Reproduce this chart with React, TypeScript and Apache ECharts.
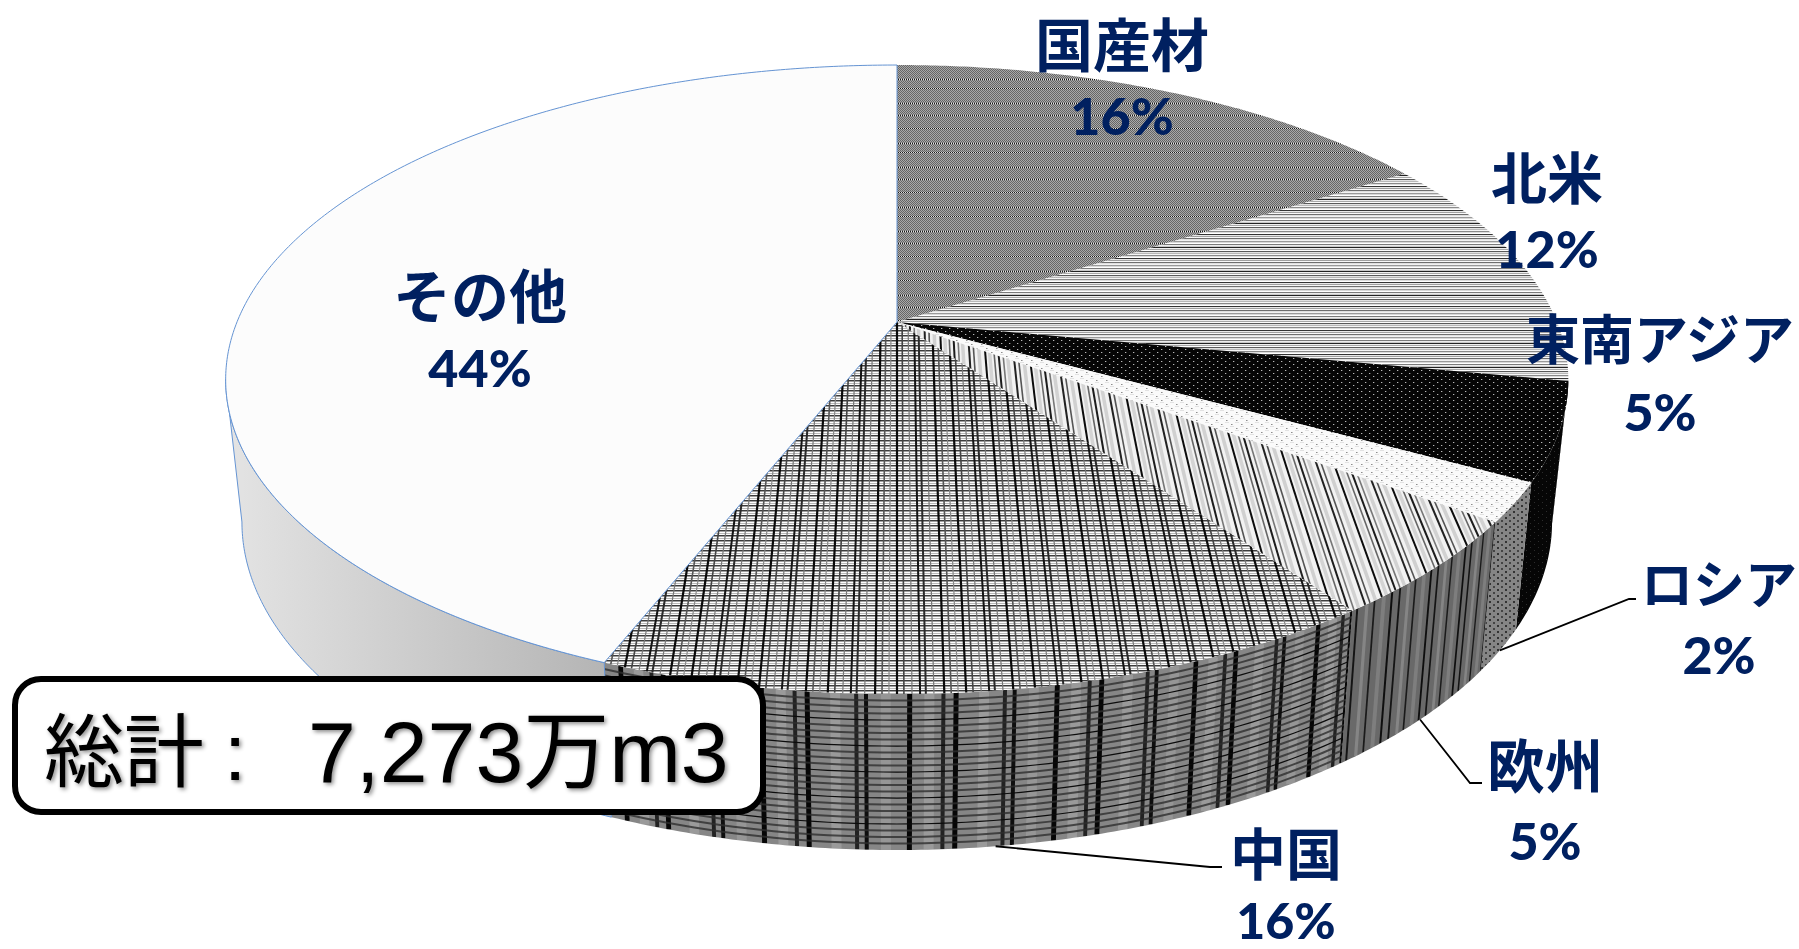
import React, { useEffect, useRef } from "react";
import * as echarts from "echarts";

const CATEGORIES = ["国産材", "北米", "東南アジア", "ロシア", "欧州", "中国", "その他"];
const VALUES = [16, 12, 5, 2, 5, 16, 44];
const TOTAL_PARTS = ["総計", ":", "7,273万m3"];

const WIDTH = 1799;
const HEIGHT = 949;
const NAVY = "#002060";
const EDGE_BLUE = "#6594d3";

// Perspective disc: the top face and the bottom face of the pie.
const CENTER_X = 897;
const TOP_FACE = { a: 660, b: 304, k: 0.183, cy: 322 };
const LOW_FACE = { a: 644, b: 317, k: 0.183, cy: 462 };
const VANISH_Y = -750;
const VANISH_SPAN = 1250;
// The rim is only seen between the two angles where the side of the disc turns away.
const RIM_FROM = (Math.acos(-TOP_FACE.k) * 180) / Math.PI;
const RIM_TO = 360 - RIM_FROM;

const LABEL_ANCHORS = [
  [1122, 42, 115],
  [1547, 174, 248],
  [1660, 336, 411],
  [1719, 581, 654],
  [1545, 763, 840],
  [1286, 850, 920],
  [480, 293, 367],
];
const NAME_SIZES = [58, 56, 54, 52, 58, 56, 58];
const VALUE_SIZES = [52, 52, 52, 52, 52, 50, 52];
const TOTAL_POSITIONS = [44, 224, 308];
const TOTAL_SIZES = [80, 80, 86];
// Leader elbows for the labels that sit away from their slices, keyed by slice index.
const LEADERS: Record<number, number[][]> = {
  3: [[1629, 599], [1636, 599]],
  4: [[1470, 783], [1482, 783]],
  5: [[1210, 867], [1222, 867]],
};

type Face = typeof TOP_FACE;

function project(face: Face, deg: number) {
  const r = (deg * Math.PI) / 180;
  const u = Math.sin(r);
  const v = -Math.cos(r);
  const d = 1 - face.k * v;
  return [CENTER_X + (face.a * u) / d, face.cy + (face.b * v) / d];
}

function sliceAngles(i: number) {
  const sum = VALUES.reduce((a, b) => a + b, 0);
  let before = 0;
  for (let j = 0; j < i; j++) before += VALUES[j];
  return [(before / sum) * 360, ((before + VALUES[i]) / sum) * 360];
}

function arc(face: Face, from: number, to: number) {
  const pts: number[][] = [];
  const steps = Math.max(2, Math.ceil(Math.abs(to - from) * 2));
  for (let s = 0; s <= steps; s++) pts.push(project(face, from + ((to - from) * s) / steps));
  return pts;
}

function makeTexture(w: number, h: number, paint: (g: CanvasRenderingContext2D) => void) {
  const c = document.createElement("canvas");
  c.width = w;
  c.height = h;
  paint(c.getContext("2d") as CanvasRenderingContext2D);
  return { image: c, repeat: "repeat", imageWidth: w, imageHeight: h };
}

function px(g: CanvasRenderingContext2D, x: number, y: number, color: string, w = 1, h = 1) {
  g.fillStyle = color;
  g.fillRect(x, y, w, h);
}

// Hatch lines on the top face fan out from a point above the pie.
function fanLines(g: CanvasRenderingContext2D, period: number, marks: (string | number)[][]) {
  for (let k = -40; k <= 40; k++) {
    for (const [offset, lw, color] of marks) {
      const w = k * period + (offset as number);
      g.strokeStyle = color as string;
      g.lineWidth = lw as number;
      g.beginPath();
      g.moveTo(CENTER_X + (w * (0 - VANISH_Y)) / VANISH_SPAN, 0);
      g.lineTo(CENTER_X + (w * (HEIGHT - VANISH_Y)) / VANISH_SPAN, HEIGHT);
      g.stroke();
    }
  }
}

// Lines running down the rim at fixed angles.
function rimVerticals(
  g: CanvasRenderingContext2D,
  from: number,
  to: number,
  period: number,
  marks: (string | number)[][],
) {
  for (let base = from - period; base < to + period; base += period) {
    for (const [offset, lw, color] of marks) {
      const deg = base + (offset as number);
      const t = project(TOP_FACE, deg);
      const l = project(LOW_FACE, deg);
      g.strokeStyle = color as string;
      g.lineWidth = (lw as number) * Math.max(0.55, Math.abs(Math.cos((deg * Math.PI) / 180)));
      g.beginPath();
      g.moveTo(t[0], t[1]);
      g.lineTo(l[0], l[1]);
      g.stroke();
    }
  }
}

function buildTopFills() {
  const woodBands = [0, 15, 24, 39, 51];
  const domestic = makeTexture(8, 64, (g) => {
    for (let y = 0; y < 64; y++) {
      for (let x = 0; x < 8; x++) {
        let c = (x + y) % 2 === 0 ? "#666666" : "#a8a8a8";
        if (woodBands.includes(y)) c = x % 2 === 0 ? "#151515" : "#e6e6e6";
        px(g, x, y, c);
      }
    }
  });
  const northRows = [
    "#f2f2f2", "#9a9a9a", "#d8d8d8", "#ffffff", "#7a7a7a", "#ececec", "#c8c8c8", "#222222",
    "#efefef", "#a8a8a8", "#fdfdfd", "#5a5a5a", "#e2e2e2", "#b8b8b8", "#f6f6f6", "#8a8a8a",
    "#dddddd", "#ffffff", "#333333", "#e8e8e8", "#a0a0a0", "#f8f8f8", "#6e6e6e", "#e0e0e0",
  ];
  const north = makeTexture(4, northRows.length, (g) => {
    northRows.forEach((c, y) => px(g, 0, y, c, 4, 1));
  });
  const asia = makeTexture(8, 6, (g) => {
    px(g, 0, 0, "#060606", 8, 6);
    for (const [x, y] of [[1, 1], [5, 4]]) {
      px(g, x, y, "#b8b8b8");
      px(g, x + 1, y, "#3c3c3c");
    }
  });
  const russia = makeTexture(10, 8, (g) => {
    px(g, 0, 0, "#fafafa", 10, 8);
    px(g, 0, 2, "#e2e2e2", 4, 1);
    px(g, 5, 6, "#e2e2e2", 4, 1);
    px(g, 1, 0, "#8e8e8e");
    px(g, 6, 4, "#8e8e8e");
    px(g, 2, 0, "#c0c0c0");
    px(g, 7, 4, "#c0c0c0");
  });
  const europe = makeTexture(WIDTH, HEIGHT, (g) => {
    px(g, 0, 0, "#f2f2f2", WIDTH, HEIGHT);
    fanLines(g, 50, [
      [0, 2, "#0c0c0c"],
      [5, 3.5, "#d4d4d4"],
      [10, 1.6, "#666666"],
      [15, 2, "#1c1c1c"],
      [20, 1.6, "#777777"],
      [25, 3.5, "#d2d2d2"],
      [32, 2, "#222222"],
      [37, 1.6, "#555555"],
      [43, 3.5, "#d0d0d0"],
    ]);
  });
  const china = makeTexture(WIDTH, HEIGHT, (g) => {
    px(g, 0, 0, "#fdfdfd", WIDTH, HEIGHT);
    for (let y = 0; y < HEIGHT; y += 5) {
      px(g, 0, y, "#3c3c3c", WIDTH, 1);
      px(g, 0, y + 1, "#a0a0a0", WIDTH, 1);
      px(g, 0, y + 3, "#b8b8b8", WIDTH, 1);
    }
    fanLines(g, 60, [
      [0, 2.2, "#0a0a0a"],
      [6, 1.6, "#444444"],
      [13, 1.2, "#777777"],
      [20, 2, "#141414"],
      [25, 2, "#2a2a2a"],
      [32, 1.2, "#777777"],
      [41, 2.2, "#0a0a0a"],
      [47, 1.6, "#555555"],
      [53, 1.2, "#888888"],
    ]);
  });
  const others = "#fcfcfc";
  return [domestic, north, asia, russia, europe, china, others];
}

function buildRimFills() {
  const plainDark = "#050505";
  const asia = makeTexture(8, 6, (g) => {
    px(g, 0, 0, "#060606", 8, 6);
    px(g, 2, 1, "#2c2c2c");
    px(g, 6, 4, "#2c2c2c");
  });
  const russia = makeTexture(8, 6, (g) => {
    px(g, 0, 0, "#858585", 8, 6);
    px(g, 1, 1, "#333333", 2, 2);
    px(g, 5, 4, "#444444", 2, 2);
  });
  const [eFrom, eTo] = sliceAngles(4);
  const europe = makeTexture(WIDTH, HEIGHT, (g) => {
    px(g, 0, 0, "#696969", WIDTH, HEIGHT);
    rimVerticals(g, eFrom, eTo, 4.6, [
      [0, 2.6, "#0e0e0e"],
      [0.9, 5, "#7e7e7e"],
      [1.9, 2.2, "#1a1a1a"],
      [2.7, 4, "#858585"],
      [3.7, 2.4, "#141414"],
    ]);
  });
  const [cFrom, cTo] = sliceAngles(5);
  const china = makeTexture(WIDTH, HEIGHT, (g) => {
    px(g, 0, 0, "#868686", WIDTH, HEIGHT);
    rimVerticals(g, cFrom, cTo, 10.6, [
      [1.9, 10, "#9a9a9a"],
      [5, 10, "#969696"],
      [8.6, 10, "#9a9a9a"],
      [0, 5, "#060606"],
      [0.9, 4, "#222222"],
      [3.3, 5, "#060606"],
      [6.4, 4, "#0e0e0e"],
      [7.1, 4, "#222222"],
    ]);
    const levels = 24;
    for (let n = 1; n < levels; n++) {
      const t = n / levels;
      g.strokeStyle = n % 4 === 0 ? "#0c0c0c" : "#2e2e2e";
      g.lineWidth = n % 4 === 0 ? 1.2 : 2;
      g.globalAlpha = n % 4 === 0 ? 1 : 0.8;
      g.beginPath();
      for (let deg = cFrom - 2; deg <= cTo + 2; deg += 1) {
        const a = project(TOP_FACE, deg);
        const b = project(LOW_FACE, deg);
        const x = a[0] + (b[0] - a[0]) * t;
        const y = a[1] + (b[1] - a[1]) * t;
        if (deg === cFrom - 2) g.moveTo(x, y);
        else g.lineTo(x, y);
      }
      g.stroke();
    }
    g.globalAlpha = 1;
  });
  const others = new echarts.graphic.LinearGradient(
    226, 0, 625, 0,
    [
      { offset: 0, color: "#e4e4e4" },
      { offset: 1, color: "#b2b2b2" },
    ],
    true,
  );
  return [plainDark, plainDark, asia, russia, europe, china, others];
}

export default function App() {
  const ref = useRef<HTMLDivElement>(null);

  useEffect(() => {
    document.body.style.margin = "0";
    const chart = echarts.init(ref.current as HTMLDivElement, null, { renderer: "svg" });
    const topFills = buildTopFills();
    const rimFills = buildRimFills();
    const rows = VALUES.map((v, i) => [i, v]);
    const lastIndex = VALUES.length - 1;

    chart.setOption({
      animation: false,
      backgroundColor: "#ffffff",
      series: [
        {
          type: "custom",
          coordinateSystem: "none",
          silent: true,
          z: 1,
          data: rows,
          renderItem: (_p: unknown, api: any) => {
            const i = api.value(0);
            const [start, end] = sliceAngles(i);
            const from = Math.max(start, RIM_FROM);
            const to = Math.min(end, RIM_TO);
            if (to <= from) return null;
            const points = [...arc(TOP_FACE, from, to), ...arc(LOW_FACE, to, from)];
            return {
              type: "polygon",
              shape: { points },
              style: {
                fill: rimFills[i],
                stroke: i === lastIndex ? EDGE_BLUE : "none",
                lineWidth: i === lastIndex ? 1 : 0,
              },
            };
          },
        },
        {
          type: "custom",
          coordinateSystem: "none",
          silent: true,
          z: 2,
          data: rows,
          renderItem: (_p: unknown, api: any) => {
            const i = api.value(0);
            const [from, to] = sliceAngles(i);
            const points = [[CENTER_X, TOP_FACE.cy], ...arc(TOP_FACE, from, to)];
            return {
              type: "polygon",
              shape: { points },
              style: {
                fill: topFills[i],
                stroke: i === lastIndex ? EDGE_BLUE : "none",
                lineWidth: i === lastIndex ? 1 : 0,
              },
            };
          },
        },
        {
          type: "custom",
          coordinateSystem: "none",
          silent: true,
          z: 3,
          data: rows,
          renderItem: (_p: unknown, api: any) => {
            const i = api.value(0);
            const [from, to] = sliceAngles(i);
            const [x, nameY, valueY] = LABEL_ANCHORS[i];
            const children: any[] = [];
            if (LEADERS[i]) {
              const start = project(LOW_FACE, (from + to) / 2);
              children.push({
                type: "polyline",
                shape: { points: [start, ...LEADERS[i]] },
                style: { stroke: "#000000", lineWidth: 1.8, fill: "none" },
              });
            }
            children.push({
              type: "text",
              style: {
                text: CATEGORIES[i],
                x,
                y: nameY,
                align: "center",
                verticalAlign: "middle",
                fill: NAVY,
                font: `700 ${NAME_SIZES[i]}px "Noto Sans CJK JP"`,
              },
            });
            children.push({
              type: "text",
              style: {
                text: `${api.value(1)}%`,
                x,
                y: valueY,
                align: "center",
                verticalAlign: "middle",
                fill: NAVY,
                font: `900 ${VALUE_SIZES[i]}px Lato`,
              },
            });
            return { type: "group", children };
          },
        },
      ],
      graphic: [
        {
          type: "rect",
          z: 100,
          shape: { x: 15, y: 679, width: 748, height: 133, r: 26 },
          style: { fill: "#ffffff", stroke: "#000000", lineWidth: 6 },
          silent: true,
        },
        ...TOTAL_PARTS.map((text, i) => ({
          type: "text",
          z: 101,
          silent: true,
          style: {
            text,
            x: TOTAL_POSITIONS[i],
            y: 752,
            align: "left",
            verticalAlign: "middle",
            fill: "#000000",
            font: `400 ${TOTAL_SIZES[i]}px "Liberation Sans", "Noto Sans CJK JP"`,
            textShadowColor: "rgba(0,0,0,0.45)",
            textShadowBlur: 4,
            textShadowOffsetX: 2,
            textShadowOffsetY: 2,
          },
        })),
      ],
    });
    return () => chart.dispose();
  }, []);

  return <div ref={ref} style={{ width: WIDTH, height: HEIGHT }} />;
}
